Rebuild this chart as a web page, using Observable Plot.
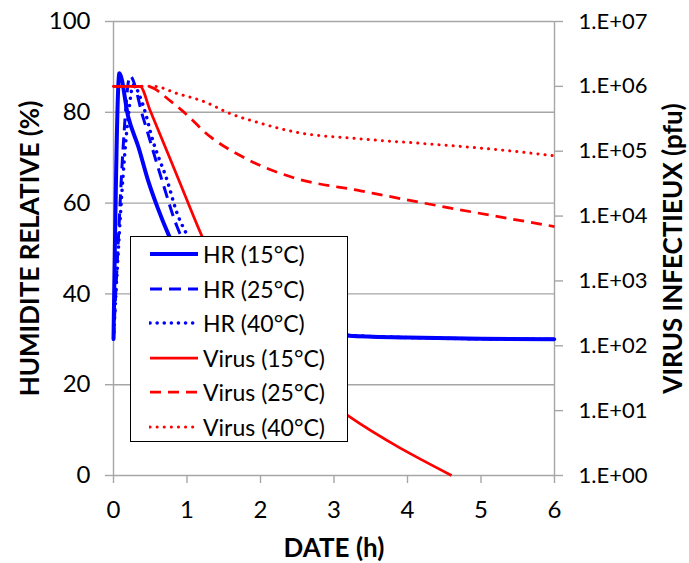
<!DOCTYPE html>
<html>
<head>
<meta charset="utf-8">
<script src="https://cdn.jsdelivr.net/npm/d3@7"></script>
<script src="https://cdn.jsdelivr.net/npm/@observablehq/plot@0.6"></script>
<style>
  body { margin: 0; background: #fff; }
  #wrap { position: relative; width: 689px; height: 563px; font-family: Lato, "Open Sans", sans-serif; }
  #legend { position: absolute; left: 130px; top: 236px; width: 216px; height: 204px; background: #fff; border: 1px solid #000; }
  #legend .row { position: absolute; left: 0; height: 30px; display: flex; align-items: center; }
  #legend svg { margin-left: 18px; }
  #legend span { margin-left: 4px; font-size: 23px; color: #000; white-space: nowrap; }
</style>
</head>
<body>
<div id="wrap"></div>
<script>
// ---- data ----
const hours = [0, 1, 2, 3, 4, 5, 6];
const hrTicks = [0, 20, 40, 60, 80, 100];
const virusTickExp = [0, 1, 2, 3, 4, 5, 6, 7];
const virusTickLabels = ["1.E+00", "1.E+01", "1.E+02", "1.E+03", "1.E+04", "1.E+05", "1.E+06", "1.E+07"];

// Humidité relative (%)
const hr15T = [0, 0.08, 0.2, 0.34, 0.47, 0.6, 0.75, 1.0, 1.5, 2.0, 2.5, 3.2, 4, 5, 6];
const hr15V = [30, 88.6, 79, 72.3, 65, 59, 53, 45, 37, 33.5, 32, 30.8, 30.4, 30.1, 30];
const hr25T = [0, 0.06, 0.13, 0.225, 0.4, 0.66, 0.86, 1.0, 1.5, 2.0, 2.5, 3.2, 4, 5, 6];
const hr25V = [30, 50, 72, 88, 79, 65, 55, 50, 39, 34, 32, 30.8, 30.4, 30.1, 30];
const hr40T = [0, 0.06, 0.13, 0.2, 0.27, 0.38, 0.55, 0.73, 0.86, 1.0, 1.5, 2.0, 2.5, 3.2, 4, 5, 6];
const hr40V = [30, 48, 66, 79, 86, 82.6, 73, 65, 58, 53, 41, 35, 32.5, 30.9, 30.4, 30.1, 30];

// Virus infectieux (pfu)
const v15T = [0, 0.36, 0.5, 0.88, 1.2, 1.5, 2.0, 2.5, 3.18, 4.6];
const v15V = [1e6, 1e6, 4.2e5, 3.8e4, 5.0e3, 1.0e3, 1.26e2, 32, 8.5, 1];
const v25T = [0, 0.45, 0.79, 0.93, 1.32, 1.73, 2.0, 2.45, 3.36, 4.27, 6];
const v25V = [1e6, 1e6, 5.75e5, 4.27e5, 1.66e5, 8.5e4, 6.0e4, 3.9e4, 2.45e4, 1.55e4, 6.9e3];
const v40T = [0, 0.55, 0.86, 1.27, 1.54, 2.0, 2.45, 3.36, 4.27, 5.18, 6];
const v40V = [1e6, 1e6, 7.8e5, 5.6e5, 4.0e5, 2.7e5, 2.0e5, 1.55e5, 1.3e5, 1.07e5, 8.5e4];

// ---- helpers ----
// the secondary (log) axis spans 1e0..1e7 over the same height as 0..100 %
const toY = v => Math.log10(v) / 7 * 100;
const hrData = (t, v) => t.map((d, i) => ({t: d, y: v[i]}));
const virusData = (t, v) => t.map((d, i) => ({t: d, y: toY(v[i])}));

const BLUE = "#0000ff", RED = "#ff0000", GRAY = "#a6a6a6";

const series = [
  {name: "HR (15°C)", data: hrData(hr15T, hr15V), stroke: BLUE, width: 4, dash: null, cap: "butt"},
  {name: "HR (25°C)", data: hrData(hr25T, hr25V), stroke: BLUE, width: 3, dash: "12 7", cap: "butt"},
  {name: "HR (40°C)", data: hrData(hr40T, hr40V), stroke: BLUE, width: 3.5, dash: "0.1 7", cap: "round"},
  {name: "Virus (15°C)", data: virusData(v15T, v15V), stroke: RED, width: 2.75, dash: null, cap: "butt"},
  {name: "Virus (25°C)", data: virusData(v25T, v25V), stroke: RED, width: 2.75, dash: "11 7", cap: "butt"},
  {name: "Virus (40°C)", data: virusData(v40T, v40V), stroke: RED, width: 3, dash: "0.1 7", cap: "round"}
];

const chart = Plot.plot({
  width: 689,
  height: 563,
  marginLeft: 113,
  marginRight: 135,
  marginTop: 21,
  marginBottom: 88,
  style: {fontFamily: "Lato, 'Open Sans', sans-serif", fontSize: "24px", color: "#000", background: "#fff"},
  x: {domain: [0, 6]},
  y: {domain: [0, 100]},
  marks: [
    Plot.gridY(hrTicks, {stroke: GRAY, strokeOpacity: 1, strokeWidth: 1.4}),
    Plot.ruleX([0, 6], {stroke: GRAY, strokeWidth: 1.4}),
    Plot.axisX({ticks: hours, tickSize: 8, tickPadding: 17, stroke: GRAY, strokeWidth: 1.4, fill: "#000", fontSize: 24, tickFormat: d => String(d), label: null}),
    Plot.axisY({anchor: "left", ticks: hrTicks, tickSize: 8, tickPadding: 15, stroke: GRAY, strokeWidth: 1.4, fill: "#000", fontSize: 24, label: null}),
    Plot.axisY({anchor: "right", ticks: virusTickExp.map(k => toY(Math.pow(10, k))), tickSize: 8, tickPadding: 16, stroke: GRAY, strokeWidth: 1.4, fill: "#000", fontSize: 22, tickFormat: (d, i) => virusTickLabels[i], label: null}),
    ...series.map(s => Plot.line(s.data, {
      x: "t", y: "y", stroke: s.stroke, strokeWidth: s.width,
      strokeDasharray: s.dash || undefined, strokeLinecap: s.cap, strokeLinejoin: "round", curve: "monotone-x"
    })),
    Plot.text(["DATE (h)"], {frameAnchor: "bottom", lineAnchor: "middle", dy: 73, text: d => d, fontWeight: "bold", fontSize: 26, fill: "#000"}),
    Plot.text(["HUMIDITE RELATIVE (%)"], {frameAnchor: "left", textAnchor: "middle", dx: -83, rotate: -90, text: d => d, fontWeight: "bold", fontSize: 26, fill: "#000"}),
    Plot.text(["VIRUS INFECTIEUX (pfu)"], {frameAnchor: "right", textAnchor: "middle", dx: 119, rotate: -90, text: d => d, fontWeight: "bold", fontSize: 26, fill: "#000"})
  ]
});

const wrap = document.getElementById("wrap");
wrap.appendChild(chart);

// legend (inside the plot area, on top of the lines)
const legend = document.createElement("div");
legend.id = "legend";
const rowTops = [0, 1, 2, 3, 4, 5].map(i => 2 + i * 34.5);
series.forEach((s, i) => {
  const row = document.createElement("div");
  row.className = "row";
  row.style.top = rowTops[i] + "px";
  const ns = "http://www.w3.org/2000/svg";
  const svg = document.createElementNS(ns, "svg");
  svg.setAttribute("width", 50);
  svg.setAttribute("height", 10);
  const ln = document.createElementNS(ns, "line");
  ln.setAttribute("x1", 1); ln.setAttribute("x2", 49);
  ln.setAttribute("y1", 5); ln.setAttribute("y2", 5);
  ln.setAttribute("stroke", s.stroke);
  ln.setAttribute("stroke-width", s.width);
  if (s.dash) ln.setAttribute("stroke-dasharray", s.dash);
  ln.setAttribute("stroke-linecap", s.cap);
  svg.appendChild(ln);
  const span = document.createElement("span");
  span.textContent = s.name;
  row.appendChild(svg);
  row.appendChild(span);
  legend.appendChild(row);
});
wrap.appendChild(legend);
</script>
</body>
</html>
